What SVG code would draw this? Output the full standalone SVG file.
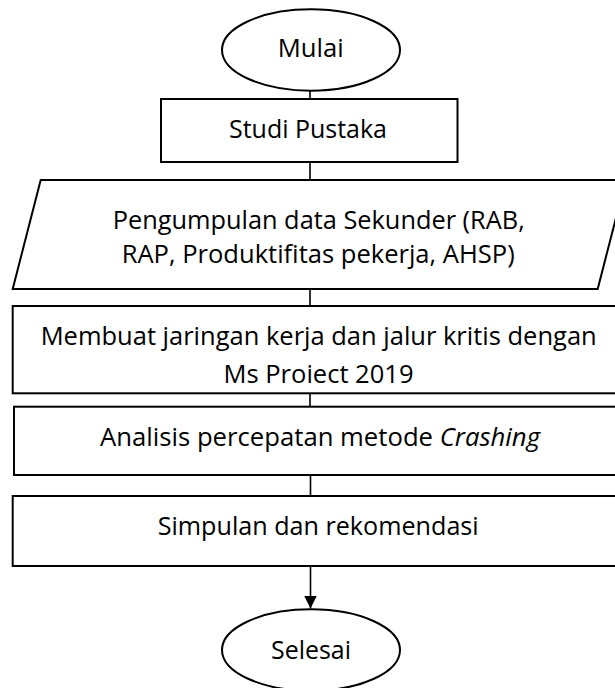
<svg xmlns="http://www.w3.org/2000/svg" width="615" height="688" viewBox="0 0 615 688">
<style>
.shape{fill:#fff;stroke:#000;stroke-width:2}
.conn{stroke:#000;stroke-width:1.6;fill:none}
text{font-family:"Open Sans","Noto Sans",sans-serif;font-size:25px;fill:#000}
</style>
<defs>
<marker id="arrow" markerWidth="14" markerHeight="14" refX="13" refY="6.5" orient="auto" markerUnits="userSpaceOnUse">
<path d="M0,0 L13,6.5 L0,13 Z" fill="#000"/>
</marker>
</defs>
<rect width="615" height="688" fill="#fff"/>
<g id="connectors">
<line class="conn" x1="310" y1="90.7" x2="310" y2="99"/>
<line class="conn" x1="310" y1="162" x2="310" y2="180"/>
<line class="conn" x1="310" y1="289" x2="310" y2="306"/>
<line class="conn" x1="310" y1="393" x2="310" y2="407"/>
<line class="conn" x1="310.5" y1="475" x2="310.5" y2="496"/>
<line class="conn" x1="310.5" y1="566" x2="310.5" y2="608.5" marker-end="url(#arrow)"/>
</g>
<g id="mulai">
<ellipse class="shape" cx="311" cy="50" rx="89" ry="40.7"/>
<text x="277.7" y="56.7" textLength="66" lengthAdjust="spacingAndGlyphs">Mulai</text>
</g>
<g id="studi-pustaka">
<rect class="shape" x="161" y="99" width="296.5" height="63"/>
<text x="229" y="138.3" textLength="158" lengthAdjust="spacingAndGlyphs">Studi Pustaka</text>
</g>
<g id="pengumpulan-data">
<polygon class="shape" points="40.7,180 625.7,180 597.7,289 12.7,289"/>
<text x="112.7" y="229.3" textLength="412" lengthAdjust="spacingAndGlyphs">Pengumpulan data Sekunder (RAB,</text>
<text x="121.7" y="262.7" textLength="393" lengthAdjust="spacingAndGlyphs">RAP, Produktifitas pekerja, AHSP)</text>
</g>
<g id="membuat-jaringan">
<rect class="shape" x="12.7" y="306" width="610" height="87.3"/>
<text x="40.7" y="345" textLength="556" lengthAdjust="spacingAndGlyphs">Membuat jaringan kerja dan jalur kritis dengan</text>
<text x="223.5" y="383.3" textLength="190" lengthAdjust="spacingAndGlyphs">Ms Proiect 2019</text>
</g>
<g id="analisis">
<rect class="shape" x="14" y="406.7" width="610" height="68.3"/>
<text x="100" y="446" textLength="440" lengthAdjust="spacingAndGlyphs">Analisis percepatan metode <tspan font-style="italic">Crashing</tspan></text>
</g>
<g id="simpulan">
<rect class="shape" x="12.7" y="496" width="610" height="70"/>
<text x="157.7" y="535" textLength="321" lengthAdjust="spacingAndGlyphs">Simpulan dan rekomendasi</text>
</g>
<g id="selesai">
<ellipse class="shape" cx="311" cy="650" rx="89" ry="40.7"/>
<text x="271" y="659.3" textLength="80" lengthAdjust="spacingAndGlyphs">Selesai</text>
</g>
</svg>
